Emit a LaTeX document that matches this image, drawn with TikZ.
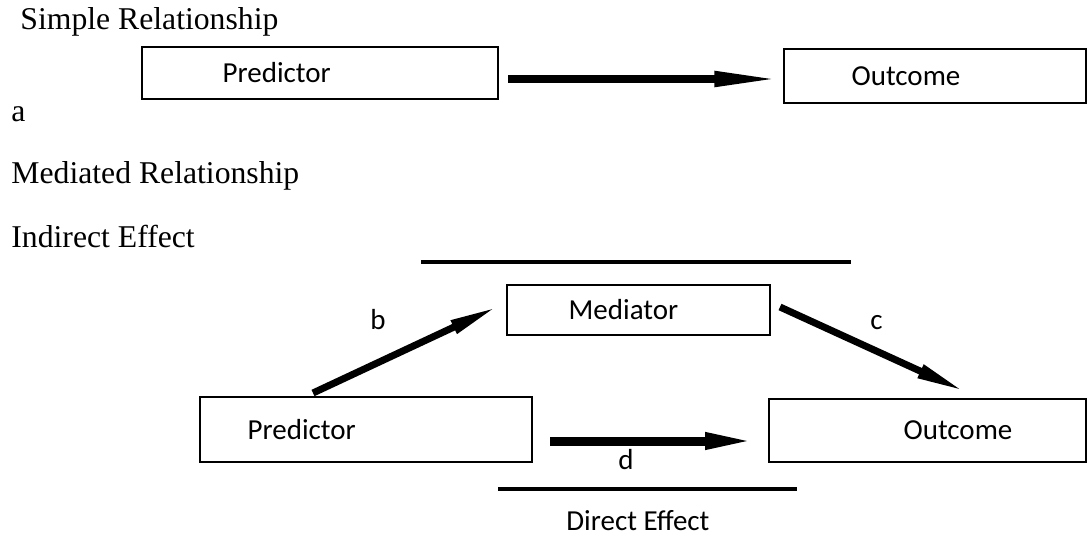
\documentclass[tikz,border=0pt]{standalone}
\usepackage{fontspec}
\setmainfont{Liberation Serif}
\newfontfamily\bodysans{Carlito}
\usetikzlibrary{arrows.meta,positioning}
\begin{document}
\begin{tikzpicture}[x=0.5pt, y=-0.5pt,
          box/.style={draw, line width=0.75pt, inner sep=0pt},
          boxtext/.style={font=\bodysans\fontsize{14.5}{17}\selectfont, inner sep=0pt},
          heading/.style={font=\fontsize{15.85}{19}\selectfont, inner sep=0pt, anchor=base west},
          effect/.style={line width=2pt},
          fat arrow/.style 2 args={line width=#1, -{Triangle[length=#2, width=#1+3pt]}}]
          \useasboundingbox (0,0) rectangle (1088,540);
          % headings on the left
          \foreach \name/\x/\y/\txt in {simple/20/30/Simple Relationship, a/11/122/a,
                  mediated/11/184/Mediated Relationship, indirect/11/248/Indirect Effect}{
              \node[heading] (\name) at (\x,\y) {\txt};
          }
          % simple relationship
          \node[box, minimum width=178pt, minimum height=26pt] (predA) at (320,73) {};
          \node[box, minimum width=151pt, minimum height=27pt] (outA) at (935,76) {};
          \node[boxtext, right=40.5pt of predA.west] (predAtext) {Predictor};
          \node[boxtext, right=34pt of outA.west] (outAtext) {Outcome};
          \coordinate (aS) at (508,79);
          \coordinate (aE) at (outA.west |- aS);
          \draw[fat arrow={4pt}{34.5pt}] (aS) -- (aE);
          % mediated relationship
          \node[box, minimum width=131.5pt, minimum height=25pt] (med) at (638.5,310) {};
          \node[box, minimum width=166pt, minimum height=32.5pt] (predB) at (366,429.5) {};
          \node[box, minimum width=158.5pt, minimum height=31.5pt] (outB) at (927.5,430.5) {};
          \node[boxtext, right=31pt of med.west] (medtext) {Mediator};
          \node[boxtext, right=24pt of predB.west] (predBtext) {Predictor};
          \node[boxtext, right=67.5pt of outB.west] (outBtext) {Outcome};
          \coordinate (bS) at (313,393);
          \coordinate (bE) at (499,306);
          \coordinate (cS) at (780,307);
          \coordinate (cE) at (966,392);
          \coordinate (dS) at (550,441);
          \coordinate (dE) at (758,441);
          \draw[fat arrow={3.5pt}{25pt}] (bS) -- (bE);
          \draw[fat arrow={3.5pt}{25pt}] (cS) -- (cE);
          \draw[fat arrow={4.5pt}{26.5pt}] (dS) -- (dE);
          \node[boxtext, anchor=base west] (blabel) at (370,329) {b};
          \node[boxtext, anchor=base west] (clabel) at (870,329) {c};
          \node[boxtext, anchor=base west] (dlabel) at (618,469) {d};
          % effect bars
          \coordinate (indL) at (421,262);
          \coordinate (indR) at (851,262);
          \coordinate (dirL) at (498,489);
          \coordinate (dirR) at (797,489);
          \draw[effect] (indL) -- (indR);
          \draw[effect] (dirL) -- (dirR);
          \node[boxtext, anchor=base west] (direct) at (566,530) {Direct Effect};
      \end{tikzpicture}
\end{document}
